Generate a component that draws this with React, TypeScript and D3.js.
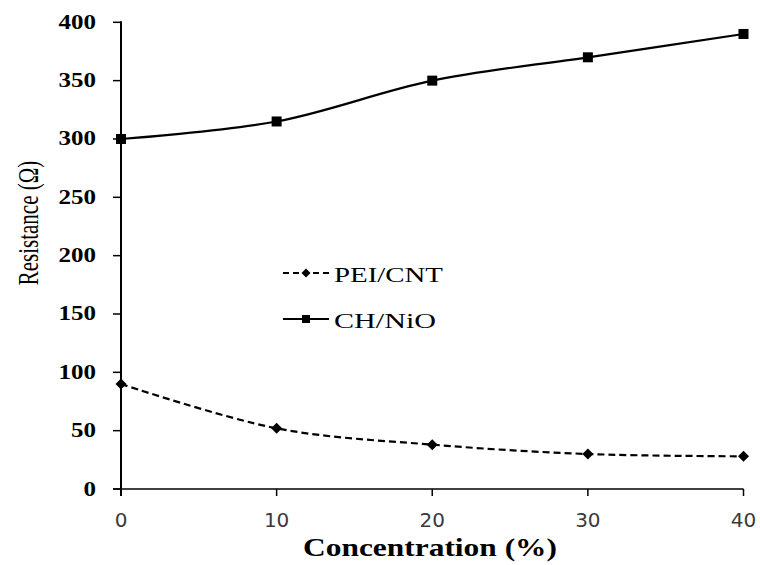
import React from "react";
import * as d3 from "d3";

// Concentration (%) on the x axis
const concentrations = [0, 10, 20, 30, 40];
// Resistance (Ω) for each film
const peiCnt = [90, 52, 38, 30, 28];
const chNio = [300, 315, 350, 370, 390];
const xTicks = [0, 10, 20, 30, 40];
const yTicks = [0, 50, 100, 150, 200, 250, 300, 350, 400];
const seriesNames = ["PEI/CNT", "CH/NiO"];

const W = 760;
const H = 565;

export default function App() {
  const x = d3.scaleLinear().domain([0, 40]).range([121, 743.5]);
  const y = d3.scaleLinear().domain([0, 400]).range([489, 22.3]);

  const line = d3
    .line<[number, number]>()
    .x((d) => x(d[0]))
    .y((d) => y(d[1]))
    .curve(d3.curveCatmullRom.alpha(0.5));

  const peiPts = concentrations.map((c, i) => [c, peiCnt[i]] as [number, number]);
  const chPts = concentrations.map((c, i) => [c, chNio[i]] as [number, number]);

  const serif = "'Liberation Serif', 'Times New Roman', serif";
  const sans = "'DejaVu Sans', Verdana, sans-serif";

  const diamond = (cx: number, cy: number, r: number) =>
    `M${cx},${cy - r}L${cx + r},${cy}L${cx},${cy + r}L${cx - r},${cy}Z`;

  return (
    <svg
      width={W}
      height={H}
      style={{ position: "absolute", left: 0, top: 0, background: "#fff" }}
    >
      {/* y axis */}
      <line x1={x(0)} x2={x(0)} y1={y(400) - 1} y2={y(0) + 7} stroke="#000" strokeWidth={2} />
      {yTicks.map((t) => (
        <g key={"y" + t}>
          <line x1={x(0) - 8} x2={x(0)} y1={y(t)} y2={y(t)} stroke="#000" strokeWidth={1.5} />
          <text
            x={96}
            y={y(t) + 6.5}
            textAnchor="end"
            fontFamily={serif}
            fontWeight="bold"
            fontSize={20}
            textLength={String(t).length * 12.5}
            lengthAdjust="spacingAndGlyphs"
            fill="#000"
          >
            {t}
          </text>
        </g>
      ))}

      {/* x axis */}
      <line x1={x(0) - 8} x2={x(40)} y1={y(0)} y2={y(0)} stroke="#000" strokeWidth={1.5} />
      {xTicks.map((t) => (
        <g key={"x" + t}>
          <line x1={x(t)} x2={x(t)} y1={y(0)} y2={y(0) + 7} stroke="#000" strokeWidth={1.5} />
          <text
            x={x(t)}
            y={527}
            textAnchor="middle"
            fontFamily={sans}
            fontSize={20}
            fill="#3a3a3a"
          >
            {t}
          </text>
        </g>
      ))}

      {/* axis titles */}
      <text
        x={430}
        y={556}
        textAnchor="middle"
        fontFamily={serif}
        fontWeight="bold"
        fontSize={25}
        textLength={254}
        lengthAdjust="spacingAndGlyphs"
        fill="#000"
      >
        Concentration (%)
      </text>
      <text
        transform="translate(38,223) scale(1.4,1) rotate(-90)"
        textAnchor="middle"
        fontFamily={serif}
        fontSize={21}
        fill="#000"
      >
        Resistance (Ω)
      </text>

      {/* PEI/CNT series */}
      <path
        d={line(peiPts) || ""}
        fill="none"
        stroke="#000"
        strokeWidth={2.2}
        strokeDasharray="7,4"
      />
      {peiPts.map((p, i) => (
        <path key={"pd" + i} d={diamond(x(p[0]), y(p[1]), 5.5)} fill="#000" />
      ))}

      {/* CH/NiO series */}
      <path d={line(chPts) || ""} fill="none" stroke="#000" strokeWidth={2.2} />
      {chPts.map((p, i) => (
        <rect
          key={"cs" + i}
          x={x(p[0]) - 5}
          y={y(p[1]) - 5}
          width={10}
          height={10}
          fill="#000"
        />
      ))}

      {/* legend */}
      <g>
        <line x1={283} x2={329} y1={273} y2={273} stroke="#000" strokeWidth={2} strokeDasharray="6,4" />
        <path d={diamond(306, 273, 4.5)} fill="#000" />
        <text
          x={334}
          y={282}
          fontFamily={serif}
          fontSize={22}
          textLength={109}
          lengthAdjust="spacingAndGlyphs"
          fill="#000"
        >
          {seriesNames[0]}
        </text>
        <line x1={283} x2={329} y1={319} y2={319} stroke="#000" strokeWidth={2} />
        <rect x={302} y={315} width={8} height={8} fill="#000" />
        <text
          x={334}
          y={328}
          fontFamily={serif}
          fontSize={22}
          textLength={102}
          lengthAdjust="spacingAndGlyphs"
          fill="#000"
        >
          {seriesNames[1]}
        </text>
      </g>
    </svg>
  );
}
